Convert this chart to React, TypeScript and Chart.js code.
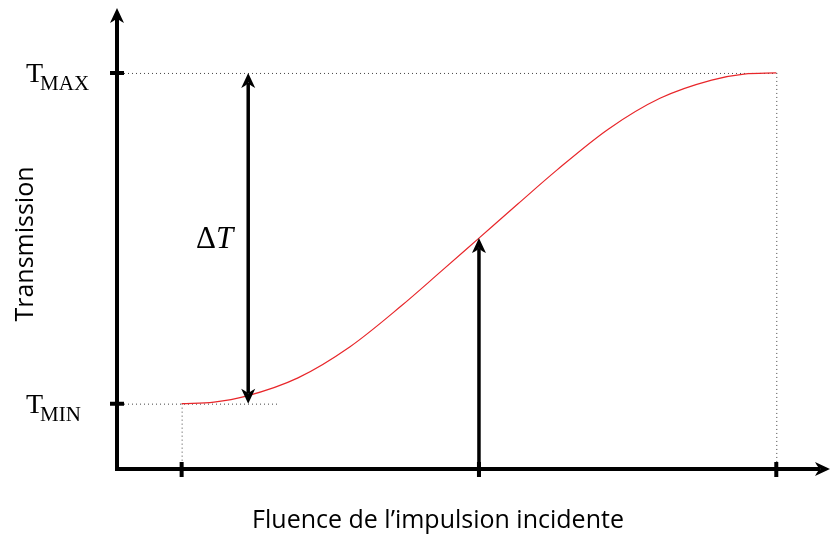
import React, { useEffect, useRef } from "react";
import { Chart, registerables } from "chart.js";

Chart.register(...registerables);

// ---- data ----
const fluence = [1.0, 1.5, 2.0, 2.8, 3.6, 4.4, 5.0, 5.6, 6.2, 6.8, 7.6, 8.4, 9.2, 9.7, 10.2];
const transmission = [0.165, 0.169, 0.184, 0.23, 0.308, 0.412, 0.497, 0.583, 0.669, 0.754, 0.858, 0.936, 0.982, 0.997, 1.0];
const fluenceTicks = [1.0, 5.6, 10.2];
const T_MIN = 0.165;
const T_MAX = 1.0;
const deltaArrowFluence = 2.03;
const tMinGuideEnd = 2.5;
const probeFluence = 5.6;
const probeTransmission = 0.583;
const xRange = [0, 11];
const yRange = [0, 1.164];
const xTitle = "Fluence de l’impulsion incidente";
const yTitle = "Transmission";
const tMaxLabel = ["T", "MAX"];
const tMinLabel = ["T", "MIN"];
const deltaLabel = ["Δ", "T"];

const SERIF = "'Liberation Serif', 'DejaVu Serif', serif";
const SANS = "'Open Sans', 'Noto Sans', sans-serif";

function arrowHead(ctx: CanvasRenderingContext2D, tx: number, ty: number, dx: number, dy: number, len: number, hw: number) {
  const px = -dy, py = dx;
  ctx.beginPath();
  ctx.moveTo(tx, ty);
  ctx.lineTo(tx - dx * len + px * hw, ty - dy * len + py * hw);
  ctx.quadraticCurveTo(tx - dx * len * 0.75, ty - dy * len * 0.75, tx - dx * len * 0.62, ty - dy * len * 0.62);
  ctx.quadraticCurveTo(tx - dx * len * 0.75, ty - dy * len * 0.75, tx - dx * len - px * hw, ty - dy * len - py * hw);
  ctx.closePath();
  ctx.fill();
}

const decorPlugin = {
  id: "decor",
  beforeDatasetsDraw(chart: any) {
    const ctx = chart.ctx as CanvasRenderingContext2D;
    const xs = chart.scales.x, ys = chart.scales.y;
    const ax = xs.getPixelForValue(xRange[0]);
    const ay = ys.getPixelForValue(yRange[0]);
    const yMax = ys.getPixelForValue(T_MAX);
    const yMin = ys.getPixelForValue(T_MIN);
    const x0 = xs.getPixelForValue(fluenceTicks[0]);
    const x2 = xs.getPixelForValue(fluenceTicks[2]);
    ctx.save();
    ctx.strokeStyle = "#444";
    ctx.lineWidth = 1;
    ctx.setLineDash([1, 3]);
    ctx.beginPath();
    ctx.moveTo(ax + 7, yMax + 0.5); ctx.lineTo(x2, yMax + 0.5);
    ctx.moveTo(ax + 7, yMin + 0.5); ctx.lineTo(xs.getPixelForValue(tMinGuideEnd), yMin + 0.5);
    ctx.moveTo(x0 + 0.5, yMin); ctx.lineTo(x0 + 0.5, ay - 6);
    ctx.moveTo(x2 + 0.5, yMax); ctx.lineTo(x2 + 0.5, ay - 6);
    ctx.stroke();
    ctx.restore();
  },
  afterDatasetsDraw(chart: any) {
    const ctx = chart.ctx as CanvasRenderingContext2D;
    const xs = chart.scales.x, ys = chart.scales.y;
    const ax = xs.getPixelForValue(xRange[0]);
    const ay = ys.getPixelForValue(yRange[0]);
    const top = ys.getPixelForValue(yRange[1]);
    const right = xs.getPixelForValue(xRange[1]);
    const yMax = ys.getPixelForValue(T_MAX);
    const yMin = ys.getPixelForValue(T_MIN);
    ctx.save();
    ctx.fillStyle = "#000";
    ctx.strokeStyle = "#000";
    ctx.setLineDash([]);
    ctx.lineCap = "butt";
    // axes
    ctx.lineWidth = 4;
    ctx.beginPath();
    ctx.moveTo(ax, ay + 2); ctx.lineTo(ax, top + 8);
    ctx.moveTo(ax - 2, ay); ctx.lineTo(right - 8, ay);
    ctx.stroke();
    arrowHead(ctx, ax, top, 0, -1, 15, 7);
    arrowHead(ctx, right + 2, ay, 1, 0, 15, 7);
    // ticks
    ctx.lineWidth = 4;
    ctx.beginPath();
    ctx.moveTo(ax - 7, yMax); ctx.lineTo(ax + 7, yMax);
    ctx.moveTo(ax - 7, yMin); ctx.lineTo(ax + 7, yMin);
    for (const f of fluenceTicks) {
      const px = xs.getPixelForValue(f);
      ctx.moveTo(px, ay - 7); ctx.lineTo(px, ay + 8);
    }
    ctx.stroke();
    // delta T double arrow
    const dx = xs.getPixelForValue(deltaArrowFluence);
    ctx.lineWidth = 3.5;
    ctx.beginPath();
    ctx.moveTo(dx, yMax + 10); ctx.lineTo(dx, yMin - 10);
    ctx.stroke();
    arrowHead(ctx, dx, yMax, 0, -1, 15, 7);
    arrowHead(ctx, dx, yMin, 0, 1, 15, 7);
    // probe arrow
    const px = xs.getPixelForValue(probeFluence);
    const py = ys.getPixelForValue(probeTransmission);
    ctx.beginPath();
    ctx.moveTo(px, ay + 8); ctx.lineTo(px, py + 10);
    ctx.stroke();
    arrowHead(ctx, px, py, 0, -1, 15, 7);

    // labels
    ctx.textBaseline = "alphabetic";
    ctx.textAlign = "left";
    const drawSub = (lab: string[], y: number) => {
      ctx.font = `28px ${SERIF}`;
      ctx.fillText(lab[0], 26, y + 9);
      const w = ctx.measureText(lab[0]).width;
      ctx.font = `21px ${SERIF}`;
      ctx.fillText(lab[1], 26 + w - 3, y + 17);
    };
    drawSub(tMaxLabel, yMax);
    drawSub(tMinLabel, yMin);
    // delta T
    const ly = ys.getPixelForValue((T_MAX + T_MIN) / 2);
    ctx.font = `31px ${SERIF}`;
    ctx.fillText(deltaLabel[0], 196, ly + 10);
    const dw = ctx.measureText(deltaLabel[0]).width;
    ctx.font = `italic 31px ${SERIF}`;
    ctx.fillText(deltaLabel[1], 196 + dw, ly + 10);

    // axis titles
    ctx.font = `25px ${SANS}`;
    ctx.textAlign = "center";
    ctx.fillText(xTitle, 438, 528);
    ctx.save();
    ctx.translate(33, 244);
    ctx.rotate(-Math.PI / 2);
    ctx.fillText(yTitle, 0, 0);
    ctx.restore();
    ctx.restore();
  },
};

export default function App() {
  const ref = useRef<HTMLCanvasElement | null>(null);
  useEffect(() => {
    if (!ref.current) return;
    const chart = new Chart(ref.current, {
      type: "line",
      data: {
        datasets: [
          {
            data: fluence.map((f, i) => ({ x: f, y: transmission[i] })),
            borderColor: "#e8262a",
            borderWidth: 1.2,
            pointRadius: 0,
            cubicInterpolationMode: "monotone",
            fill: false,
          },
        ],
      },
      options: {
        animation: false,
        responsive: false,
        devicePixelRatio: 1,
        layout: { padding: { left: 117, right: 3, top: 8, bottom: 67 } },
        plugins: { legend: { display: false }, tooltip: { enabled: false } },
        scales: {
          x: { type: "linear", min: xRange[0], max: xRange[1], display: false },
          y: { type: "linear", min: yRange[0], max: yRange[1], display: false },
        },
      },
      plugins: [decorPlugin],
    } as any);
    return () => chart.destroy();
  }, []);
  return (
    <div style={{ position: "absolute", left: 0, top: 0, width: 831, height: 536, background: "#fff" }}>
      <canvas ref={ref} width={831} height={536} />
    </div>
  );
}
